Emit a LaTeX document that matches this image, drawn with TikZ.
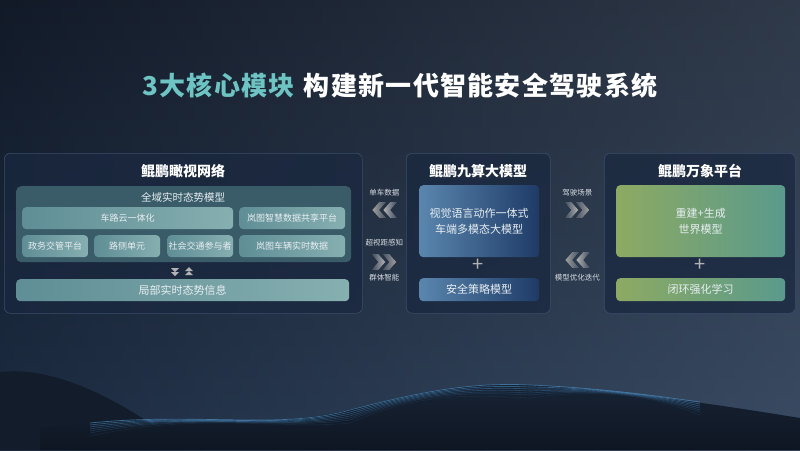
\documentclass[tikz,border=0pt]{standalone}
\usepackage{fontspec}
\setmainfont{Noto Sans CJK SC}
\usetikzlibrary{calc}
\definecolor{bgtop}{HTML}{121A28}
\definecolor{bgbot}{HTML}{223651}
\definecolor{panelfill}{HTML}{1A2840}
\definecolor{panelline}{HTML}{3A4D68}
\definecolor{teal}{HTML}{6EC3C3}
\definecolor{innerfill}{HTML}{3E626E}
\definecolor{subL}{HTML}{5F8E96}
\definecolor{subR}{HTML}{86AFB0}
\definecolor{blueL}{HTML}{5A86AE}
\definecolor{blueR}{HTML}{1E3B66}
\definecolor{greenL}{HTML}{8DAA62}
\definecolor{greenR}{HTML}{5A9A8C}
\definecolor{txt}{HTML}{E8EEF2}
\definecolor{dune}{HTML}{0F1622}
\definecolor{wave}{HTML}{4A8CC0}
\tikzset{
  panel/.style={draw=panelline, line width=0.6pt, fill=panelfill, fill opacity=0.75, rounded corners=6pt, anchor=north west, inner sep=0pt},
  ptitle/.style={text=white, font=\fontsize{14}{16}\selectfont\bfseries},
  inner/.style={fill=innerfill, fill opacity=0.9, rounded corners=5pt, anchor=north west, inner sep=0pt},
  sub/.style={left color=subL, right color=subR, rounded corners=4pt, anchor=north west, inner sep=0pt, text=txt, font=\fontsize{9}{11}\selectfont},
  bluebox/.style={left color=blueL, right color=blueR, rounded corners=4pt, anchor=north west, inner sep=0pt, text=txt, font=\fontsize{11}{16}\selectfont, align=center},
  greenbox/.style={left color=greenL, right color=greenR, rounded corners=4pt, anchor=north west, inner sep=0pt, text=txt, font=\fontsize{11}{16}\selectfont, align=center},
  small/.style={text=txt!85!gray, font=\fontsize{7.5}{9}\selectfont},
  plus/.style={text=gray!60!white, font=\fontsize{20}{20}\selectfont},
  chevr/.pic={
    \fill[left color=gray!25!bgbot, right color=gray!60!white] (-13,-8)--(-6,-8)--(1,0)--(-6,8)--(-13,8)--(-6,0)--cycle;
    \fill[left color=gray!35!bgbot, right color=gray!75!white] (-2,-8)--(5,-8)--(12,0)--(5,8)--(-2,8)--(5,0)--cycle;
  },
  chevl/.pic={
    \fill[right color=gray!25!bgbot, left color=gray!60!white] (13,-8)--(6,-8)--(-1,0)--(6,8)--(13,8)--(6,0)--cycle;
    \fill[right color=gray!35!bgbot, left color=gray!75!white] (2,-8)--(-5,-8)--(-12,0)--(-5,8)--(2,8)--(-5,0)--cycle;
  },
  tri/.pic={
    \fill[gray!60!white] (-4,-3)--(4,-3)--(0,1)--cycle;
    \fill[gray!60!white] (-4,1)--(4,1)--(0,5)--cycle;
  }
}
\begin{document}
\begin{tikzpicture}[x=1pt,y=-1pt]
\useasboundingbox (0,0) rectangle (800,450);
% background
\shade[top color=bgtop, bottom color=bgbot] (0,0) rectangle (800,450);
\shade[left color=bgtop, right color=white!30!bgbot, opacity=0.35] (0,0) rectangle (800,450);
% dunes
\fill[dune!80!bgbot] (0,372) .. controls (50,366) and (110,395) .. (160,430) -- (160,450) -- (0,450) -- cycle;
\shade[top color=dune!60!bgbot, bottom color=dune] (40,428) .. controls (150,415) and (260,430) .. (340,412) .. controls (420,392) and (470,382) .. (530,385) .. controls (620,390) and (720,405) .. (800,418) -- (800,450) -- (40,450) -- cycle;
\foreach \d/\o in {0/0.7,2/0.55,4/0.45,6/0.35,8/0.25,10/0.18,13/0.1} {
  \draw[wave, opacity=\o, line width=0.7pt] (90,\d+423) .. controls (200,412) and (280,430) .. (350,\d+410) .. controls (420,392) and (470,\d+382) .. (530,\d+385) .. controls (600,388) and (650,395) .. (700,\d+402);
}
% title
\node (title) at (400,86) {\fontsize{26}{30}\selectfont\bfseries\addfontfeature{LetterSpace=5}\color{teal}3大核心模块\hspace{9pt}\color{white}构建新一代智能安全驾驶系统};

% Left panel
\node[panel, minimum width=358, minimum height=160] (L) at (4,153) {};
\node[ptitle] (Lt) at (183,171) {鲲鹏瞰视网络};
\node[inner, minimum width=335, minimum height=76] (G) at (16,186) {};
\node[text=txt, font=\fontsize{10.5}{12}\selectfont] (Gt) at (183,197) {全域实时态势模型};
\node[sub, minimum width=211, minimum height=22] (s1) at (22,207) {车路云一体化};
\node[sub, minimum width=106, minimum height=22] (s2) at (239,207) {岚图智慧数据共享平台};
\node[sub, minimum width=66, minimum height=22] (s3) at (22,235) {政务交管平台};
\node[sub, minimum width=66, minimum height=22] (s4) at (94,235) {路侧单元};
\node[sub, minimum width=66, minimum height=22] (s5) at (167,235) {社会交通参与者};
\node[sub, minimum width=106, minimum height=22] (s6) at (239,235) {岚图车辆实时数据};
\node[sub, minimum width=333, minimum height=22, font=\fontsize{11}{12}\selectfont] (loc) at (16,279) {局部实时态势信息};
\pic at (175,271) {tri};
\pic[rotate=180] at (189,272) {tri};

% Middle panel
\node[panel, minimum width=144, minimum height=160] (M) at (406,153) {};
\node[ptitle] (Mt) at (478,171) {鲲鹏九算大模型};
\node[bluebox, minimum width=120, minimum height=72] (vla) at (419,185) {视觉语言动作一体式\\车端多模态大模型};
\node[plus] (p1) at (478,265) {+};
\node[bluebox, minimum width=120, minimum height=23] (safe) at (419,278) {安全策略模型};

% Right panel
\node[panel, minimum width=191, minimum height=160] (R) at (604,153) {};
\node[ptitle] (Rt) at (700,171) {鲲鹏万象平台};
\node[greenbox, minimum width=169, minimum height=72] (wm) at (616,185) {重建+生成\\世界模型};
\node[plus] (p2) at (700,265) {+};
\node[greenbox, minimum width=169, minimum height=23] (rl) at (616,278) {闭环强化学习};

% Between panels
\coordinate (LM) at ($(L.east)!0.5!(M.west)$);
\coordinate (MR) at ($(M.east)!0.5!(R.west)$);
\node[small] (a1) at (LM |- 0,193) {单车数据};
\pic at (LM |- 0,210) {chevl};
\node[small] (a2) at (LM |- 0,243) {超视距感知};
\pic at (LM |- 0,262) {chevr};
\node[small] (a3) at (LM |- 0,278) {群体智能};

\node[small] (b1) at (MR |- 0,193) {驾驶场景};
\pic at (MR |- 0,210) {chevr};
\pic at (MR |- 0,260) {chevl};
\node[small] (b2) at (MR |- 0,278) {模型优化迭代};
\end{tikzpicture}
\end{document}
